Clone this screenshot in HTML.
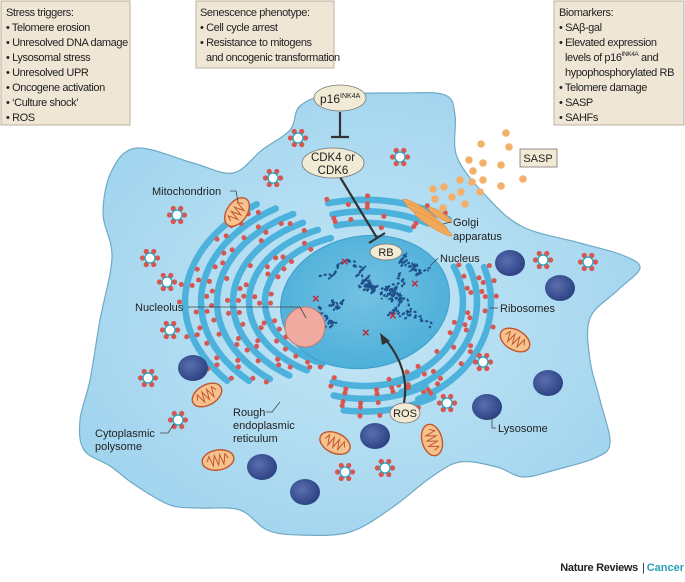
<!DOCTYPE html>
<html><head><meta charset="utf-8"><style>
html,body{margin:0;padding:0;background:#fff;}
body{width:685px;height:577px;overflow:hidden;font-family:"Liberation Sans",sans-serif;}
svg text{font-family:"Liberation Sans",sans-serif;fill:#222;}
</style></head><body>
<svg id="s" width="685" height="577" viewBox="0 0 685 577" xmlns="http://www.w3.org/2000/svg">
<defs>
<radialGradient id="cg" cx="50%" cy="50%" r="60%"><stop offset="0" stop-color="#c4e6f5"/><stop offset="1" stop-color="#9fd3ee"/></radialGradient>
<radialGradient id="ng" cx="50%" cy="45%" r="60%"><stop offset="0" stop-color="#74c2e3"/><stop offset="1" stop-color="#4aaed8"/></radialGradient>
<radialGradient id="lg" cx="40%" cy="40%" r="60%"><stop offset="0" stop-color="#5a6fae"/><stop offset="1" stop-color="#2e4385"/></radialGradient>
</defs>
<path id="cell" d="" fill="url(#cg)" stroke="#6fa9c6" stroke-width="1.2"/>
<g id="er"></g>
<ellipse cx="365" cy="302" rx="85" ry="66" transform="rotate(-10 365 302)" fill="url(#ng)" stroke="#3d9fcb" stroke-width="1"/>
<g id="dna"></g>
<circle cx="305" cy="327" r="20" fill="#f0aba0" stroke="#c77a70" stroke-width="1"/>
<g id="org"></g>
<g fill="#f2a95b" stroke="#e08f3a" stroke-width="0.6">
<ellipse cx="420" cy="210" rx="20" ry="3.5" transform="rotate(32 420 210)"/>
<ellipse cx="427" cy="217" rx="24" ry="3.5" transform="rotate(32 427 217)"/>
<ellipse cx="433" cy="224" rx="22" ry="3.5" transform="rotate(32 433 224)"/>
<ellipse cx="440" cy="215" rx="14" ry="3" transform="rotate(32 440 215)"/>
</g>
<g stroke="#333" stroke-width="2.2" fill="none">
<line x1="340" y1="112" x2="340" y2="137"/><line x1="331" y1="137" x2="349" y2="137"/>
<line x1="340" y1="177" x2="377" y2="238"/><line x1="369" y1="243" x2="385" y2="233"/>
<path d="M 404 403 C 408 380, 402 360, 386 340"/>
</g>
<path d="M 380 333 L 390 341 L 382 345 Z" fill="#333"/>
<g fill="#f1ead5" stroke="#777" stroke-width="0.8">
<ellipse cx="340" cy="98" rx="26" ry="13"/>
<ellipse cx="333" cy="163" rx="31" ry="15"/>
<ellipse cx="386" cy="252" rx="16" ry="8"/>
<ellipse cx="405" cy="413" rx="15" ry="10"/>
<rect x="520" y="149" width="37" height="18"/>
</g>
<text x="320" y="103" font-size="12">p16<tspan font-size="7" dy="-5">INK4A</tspan></text>
<text x="333" y="161" font-size="11.5" text-anchor="middle">CDK4 or</text>
<text x="333" y="174" font-size="11.5" text-anchor="middle">CDK6</text>
<text x="386" y="256" font-size="11" text-anchor="middle">RB</text>
<text x="405" y="417" font-size="11" text-anchor="middle">ROS</text>
<text x="538" y="162" font-size="11" text-anchor="middle">SASP</text>
<g font-size="11">
<text x="152" y="195">Mitochondrion</text>
<text x="453" y="226">Golgi</text><text x="453" y="240">apparatus</text>
<text x="440" y="262">Nucleus</text>
<text x="135" y="311">Nucleolus</text>
<text x="500" y="312">Ribosomes</text>
<text x="233" y="416">Rough</text><text x="233" y="429">endoplasmic</text><text x="233" y="442">reticulum</text>
<text x="95" y="437">Cytoplasmic</text><text x="95" y="450">polysome</text>
<text x="498" y="432">Lysosome</text>
</g>
<g stroke="#444" stroke-width="0.8" fill="none">
<path d="M230 191 H236 L238 202"/><path d="M451 222 L443 224"/><path d="M438 258 L430 266"/>
<path d="M188 307 H300 L306 318"/><path d="M498 308 L490 308"/>
<path d="M266 412 H272 L280 402"/><path d="M160 433 H168 L174 424"/>
<path d="M496 428 H492 V414"/>
</g>
<g fill="#efe6d6" stroke="#bcb29c" stroke-width="1">
<rect x="1" y="1" width="129" height="124"/>
<rect x="196" y="1" width="138" height="67"/>
<rect x="554" y="1" width="130" height="124"/>
</g>
<g font-size="11" letter-spacing="-0.4">
<text x="6" y="16">Stress triggers:</text>
<text x="6" y="31">• Telomere erosion</text>
<text x="6" y="46">• Unresolved DNA damage</text>
<text x="6" y="61">• Lysosomal stress</text>
<text x="6" y="76">• Unresolved UPR</text>
<text x="6" y="91">• Oncogene activation</text>
<text x="6" y="106">• ‘Culture shock’</text>
<text x="6" y="121">• ROS</text>
<text x="200" y="16">Senescence phenotype:</text>
<text x="200" y="31">• Cell cycle arrest</text>
<text x="200" y="46">• Resistance to mitogens</text>
<text x="206" y="61">and oncogenic transformation</text>
<text x="559" y="16">Biomarkers:</text>
<text x="559" y="31">• SAβ-gal</text>
<text x="559" y="46">• Elevated expression</text>
<text x="565" y="61">levels of p16<tspan font-size="6.5" dy="-5">INK4A</tspan><tspan dy="5"> and</tspan></text>
<text x="565" y="76">hypophosphorylated RB</text>
<text x="559" y="91">• Telomere damage</text>
<text x="559" y="106">• SASP</text>
<text x="559" y="121">• SAHFs</text>
</g>
<text x="638" y="571" font-size="11" font-weight="bold" text-anchor="end" letter-spacing="-0.3">Nature Reviews</text>
<text x="642" y="571" font-size="11">|</text>
<text x="684" y="571" font-size="11" font-weight="bold" text-anchor="end" style="fill:#2aa0b8">Cancer</text>
</svg>
<script>
var NS="http://www.w3.org/2000/svg";
var seed=11;function rnd(){seed=(seed*16807)%2147483647;return (seed-1)/2147483646;}
function el(p,t,a){var e=document.createElementNS(NS,t);for(var k in a)e.setAttribute(k,a[k]);p.appendChild(e);return e;}
var P=[[137,148],[193,163],[233,173],[262,150],[290,130],[300,106],[330,95],[400,93],[445,95],[455,115],[457,157],[487,197],[523,227],[580,243],[622,255],[640,268],[618,290],[590,318],[590,360],[600,400],[610,443],[595,458],[555,470],[523,477],[497,467],[460,462],[430,478],[393,507],[350,532],[300,535],[267,530],[240,510],[200,508],[170,505],[135,485],[110,466],[84,450],[80,420],[90,380],[100,320],[112,257],[103,213],[112,170]];
var n=P.length,d="M"+P[0][0]+" "+P[0][1];
for(var i=0;i<n;i++){var p0=P[(i-1+n)%n],p1=P[i],p2=P[(i+1)%n],p3=P[(i+2)%n];
 d+=" C"+(p1[0]+(p2[0]-p0[0])/6).toFixed(1)+" "+(p1[1]+(p2[1]-p0[1])/6).toFixed(1)+" "+(p2[0]-(p3[0]-p1[0])/6).toFixed(1)+" "+(p2[1]-(p3[1]-p1[1])/6).toFixed(1)+" "+p2[0]+" "+p2[1];}
document.getElementById("cell").setAttribute("d",d+"Z");
var er=document.getElementById("er"),org=document.getElementById("org"),dna=document.getElementById("dna");
var cx=365,cy=302;
function arc(r,a0,a1,sx,sy){var p="";for(var a=a0;a<=a1;a+=3){var t=a*Math.PI/180;var x=cx+r*sx*Math.cos(t),y=cy+r*sy*Math.sin(t);p+=(p?"L":"M")+x.toFixed(1)+" "+y.toFixed(1);}return p;}
function band(r,a0,a1,sx,sy,prob){
 el(er,"path",{d:arc(r,a0,a1,sx,sy),stroke:"#4cb2dc","stroke-width":6.5,fill:"none","stroke-linecap":"round"});
 for(var a=a0;a<=a1;a+=8){var t=a*Math.PI/180;
  [-5.5,5.5].forEach(function(o){if(rnd()<prob){el(er,"circle",{cx:cx+(r+o)*sx*Math.cos(t),cy:cy+(r+o)*sy*Math.sin(t),r:2.5,fill:"#d85550"});}});}
}
[100,116,132,148,164,180].forEach(function(r,i){band(r,115+i*5,250-i*3,1,0.68,0.5);});
[98,112,126].forEach(function(r,i){band(r,-25+i*3,75-i*4,1.0,0.85,0.55);});
[105,121,137].forEach(function(r,i){band(r,60,110-i*5,1,0.8,0.5);});
[110,126,142].forEach(function(r,i){band(r,255,295+i*6,1,0.72,0.5);});
for(var k=0;k<14;k++){var x=318+rnd()*100,y=270+rnd()*65,p="M"+x.toFixed(1)+" "+y.toFixed(1);
 for(var j=0;j<6;j++){x+=rnd()*22-11;y+=rnd()*18-9;p+=" Q"+(x+8).toFixed(1)+" "+(y-8).toFixed(1)+" "+x.toFixed(1)+" "+y.toFixed(1);}
 el(dna,"path",{d:p,stroke:"#1f4f8a","stroke-width":2,fill:"none","stroke-dasharray":"3 2"});}
[[345,262],[415,284],[316,299],[393,316],[366,333]].forEach(function(c){
 var t=el(dna,"text",{x:c[0]-4,y:c[1]+4,"font-size":13,"font-weight":"bold",style:"fill:#c0283a"});t.textContent="×";});
[[300,326],[306,322],[298,334],[310,332],[304,340],[294,330]].forEach(function(c){el(dna,"circle",{cx:c[0],cy:c[1],r:2.4,fill:"#d85550"});});
[[177,215],[150,258],[167,282],[170,330],[148,378],[178,420],[273,178],[298,138],[345,472],[385,468],[447,403],[483,362],[543,260],[588,262],[400,157]].forEach(function(c){
 for(var a=0;a<6;a++){var t=a*Math.PI/3;el(org,"circle",{cx:c[0]+7.5*Math.cos(t),cy:c[1]+7.5*Math.sin(t),r:2.6,fill:"#d85550"});}
 el(org,"circle",{cx:c[0],cy:c[1],r:5,fill:"#fff",stroke:"#1ea3c0","stroke-width":1.3});});
[[237,212,-55],[207,395,-30],[218,460,-10],[335,443,25],[432,440,75],[515,340,30]].forEach(function(m){
 var g=el(org,"g",{transform:"translate("+m[0]+" "+m[1]+") rotate("+m[2]+")"});
 el(g,"ellipse",{cx:0,cy:0,rx:16,ry:10,fill:"#f6c28e",stroke:"#c2552d","stroke-width":1.4});
 el(g,"path",{d:"M-11 0 l2.7 -5 l2.7 10 l2.7 -10 l2.7 10 l2.7 -10 l2.7 10 l2.7 -10 l2.7 5",stroke:"#c2552d","stroke-width":1,fill:"none"});});
[[193,368],[262,467],[305,492],[375,436],[487,407],[548,383],[510,263],[560,288]].forEach(function(c){el(org,"ellipse",{cx:c[0],cy:c[1],rx:15,ry:13,fill:"url(#lg)"});});
[[506,133],[481,144],[509,147],[469,160],[483,163],[501,165],[473,171],[460,180],[472,182],[483,180],[501,186],[523,179],[480,192],[433,189],[444,187],[452,197],[461,192],[435,199],[465,204],[443,208]].forEach(function(c){el(org,"circle",{cx:c[0],cy:c[1],r:3.8,fill:"#f4b06a"});});
</script>
</body></html>
